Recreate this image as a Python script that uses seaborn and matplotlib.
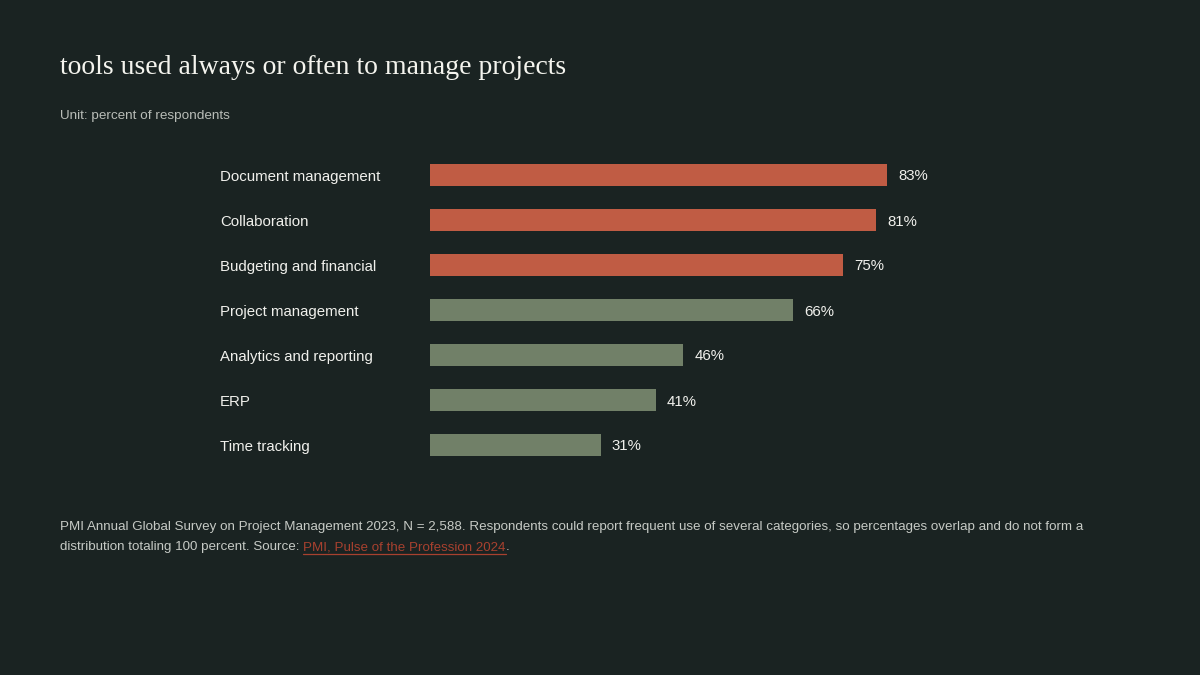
import matplotlib
matplotlib.use("Agg")
import matplotlib.pyplot as plt
import matplotlib.transforms as mtransforms
import pandas as pd
import seaborn as sns

# data
categories = ["Document management", "Collaboration", "Budgeting and financial",
              "Project management", "Analytics and reporting", "ERP", "Time tracking"]
values = [83, 81, 75, 66, 46, 41, 31]
groups = ["top", "top", "top", "rest", "rest", "rest", "rest"]

BG = "#1a2322"
ORANGE = "#c05c44"
GREEN = "#718068"
LINK = "#a8412f"

df = pd.DataFrame({"tool": categories, "pct": values, "group": groups})

sns.set_theme(style="white")
plt.rcParams["font.family"] = ["Liberation Sans", "DejaVu Sans"]

W, H = 1200, 675
fig = plt.figure(figsize=(12, 6.75), dpi=100, facecolor=BG)
ax = fig.add_axes([430 / W, 1 - 467.5 / H, 550.6 / W, 315 / H])
ax.set_facecolor(BG)

sns.barplot(data=df, y="tool", x="pct", hue="group", palette={"top": ORANGE, "rest": GREEN},
            width=0.49, dodge=False, legend=False, saturation=1, linewidth=0, ax=ax)
ax.set_xlim(0, 100)
ax.set_ylim(6.5, -0.5)
ax.set_xticks([])
ax.set_yticks([])
ax.set_xlabel("")
ax.set_ylabel("")
for s in ax.spines.values():
    s.set_visible(False)

# category labels at fixed figure x, data y
trans = mtransforms.blended_transform_factory(fig.transFigure, ax.transData)
for i, (name, v) in enumerate(zip(categories, values)):
    t = ax.text(220 / W, i, name, transform=trans, ha="left", va="center",
                color="#f0f0ec", fontsize=10.8, clip_on=False)
    t.set_transform(trans + mtransforms.ScaledTranslation(0, -2 / 100, fig.dpi_scale_trans))
    ax.annotate(f"{v}%", (v, i), xytext=(11, -1.5), textcoords="offset pixels",
                ha="left", va="center", color="#f0f0ec", fontsize=10.8,
                annotation_clip=False)

fig.text(60 / W, 1 - 67 / H, "tools used always or often to manage projects",
         family=["Liberation Serif", "DejaVu Serif"], fontsize=20, color="#f4f4ee",
         ha="left", va="center")
fig.text(60 / W, 1 - 116 / H, "Unit: percent of respondents", fontsize=9.7,
         color="#b9bdb8", ha="left", va="center")

foot_kw = dict(fontsize=9.65, color="#c6cac5", ha="left", va="center")
fig.text(60 / W, 1 - 527 / H,
         "PMI Annual Global Survey on Project Management 2023, N = 2,588. Respondents could "
         "report frequent use of several categories, so percentages overlap and do not form a",
         **foot_kw)

fig.canvas.draw()
r = fig.canvas.get_renderer()
y2 = 1 - 547 / H
t1 = fig.text(60 / W, y2, "distribution totaling 100 percent. Source: ", **foot_kw)
bb = t1.get_window_extent(r)
x_link = bb.x1 / W
t2 = fig.text(x_link, y2, "PMI, Pulse of the Profession 2024", fontsize=9.65, color=LINK,
              ha="left", va="center")
bb2 = t2.get_window_extent(r)
fig.add_artist(plt.Line2D([bb2.x0 / W, bb2.x1 / W], [1 - 554 / H, 1 - 554 / H],
                          transform=fig.transFigure, color=LINK, lw=0.9))
fig.text(bb2.x1 / W, y2, ".", **foot_kw)

fig.savefig("out.png", dpi=100, facecolor=BG)
